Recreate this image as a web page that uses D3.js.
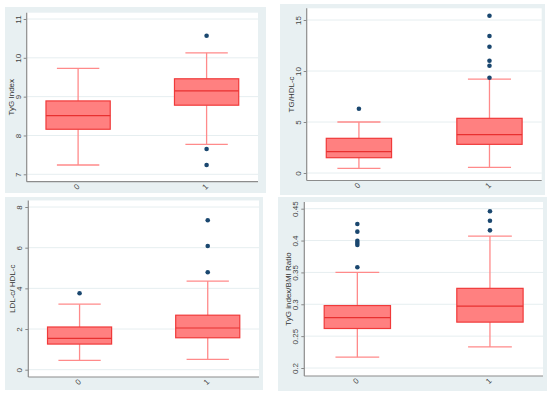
<!DOCTYPE html>
<html>
<head>
<meta charset="utf-8">
<script src="https://cdn.jsdelivr.net/npm/d3@7"></script>
<style>
body { margin: 0; background: #fff; }
svg { display: block; font-family: "Liberation Sans", Arial, sans-serif; }
</style>
</head>
<body>
<svg id="chart" width="550" height="394"></svg>
<script>
var groups = ["0", "1"];

// each box: [lower whisker, q1, median, q3, upper whisker]
var tygStats = [[7.24, 8.16, 8.51, 8.89, 9.73], [7.77, 8.78, 9.15, 9.46, 10.13]];
var tygOutliers = [[], [10.57, 7.65, 7.24]];
var tygTicks = [7, 8, 9, 10, 11];

var tghdlStats = [[0.46, 1.5, 2.09, 3.4, 5.0], [0.56, 2.81, 3.76, 5.36, 9.2]];
var tghdlOutliers = [[6.3], [15.42, 13.43, 12.38, 11.0, 10.52, 9.34]];
var tghdlTicks = [0, 5, 10, 15];

var ldlStats = [[0.46, 1.26, 1.54, 2.10, 3.22], [0.51, 1.57, 2.05, 2.68, 4.36]];
var ldlOutliers = [[3.76], [7.35, 6.08, 4.79]];
var ldlTicks = [0, 2, 4, 6, 8];

var bmiStats = [[0.217, 0.262, 0.279, 0.298, 0.350], [0.233, 0.272, 0.297, 0.325, 0.407]];
var bmiOutliers = [[0.426, 0.414, 0.3995, 0.396, 0.393, 0.358], [0.446, 0.431, 0.416]];
var bmiTicks = [0.2, 0.25, 0.3, 0.35, 0.4, 0.45];

var panels = [
    { title: "TyG Index", stats: tygStats, outliers: tygOutliers, ticks: tygTicks,
      bg: [5, 7, 261, 186], plot: [26.7, 258, 12.7, 181.7], tickPx: [174.3, 19] },
    { title: "TG/HDL-c", stats: tghdlStats, outliers: tghdlOutliers, ticks: tghdlTicks,
      bg: [280, 4, 265, 191], plot: [306.7, 541.7, 8.3, 180.5], tickPx: [173, 20] },
    { title: "LDL-c/ HDL-c", stats: ldlStats, outliers: ldlOutliers, ticks: ldlTicks,
      bg: [5, 197, 258, 193], plot: [28.3, 259, 200.5, 377], tickPx: [369.7, 207] },
    { title: "TyG index/BMI Ratio", stats: bmiStats, outliers: bmiOutliers, ticks: bmiTicks,
      bg: [278, 197, 269, 194], plot: [304.3, 543, 202, 376], tickPx: [368, 208.7] }
];

var svg = d3.select("#chart");

panels.forEach(function (p) {
    var g = svg.append("g");
    var x0 = p.plot[0], x1 = p.plot[1], top = p.plot[2], bottom = p.plot[3];

    var y = d3.scaleLinear()
        .domain([p.ticks[0], p.ticks[p.ticks.length - 1]])
        .range(p.tickPx);

    var x = d3.scalePoint()
        .domain(groups)
        .range([x0, x1])
        .padding(0.4);
    // box is half the step between groups
    var boxW = x.step() * 0.5;
    var capW = boxW * 0.66;
    function cx(d) { return x(d); }

    // graph region
    g.append("rect")
        .attr("x", p.bg[0]).attr("y", p.bg[1])
        .attr("width", p.bg[2]).attr("height", p.bg[3])
        .attr("fill", "#e8f0f2");

    // plot region
    g.append("rect")
        .attr("x", x0).attr("y", top)
        .attr("width", x1 - x0).attr("height", bottom - top)
        .attr("fill", "#ffffff");

    // grid lines
    g.selectAll(".grid")
        .data(p.ticks)
        .enter()
        .append("line")
        .attr("x1", x0).attr("x2", x1)
        .attr("y1", function (d) { return y(d); })
        .attr("y2", function (d) { return y(d); })
        .attr("stroke", "#e6eef0")
        .attr("stroke-width", 1);

    // y axis
    var yAxis = d3.axisLeft(y)
        .tickValues(p.ticks)
        .tickSize(3)
        .tickPadding(3)
        .tickFormat(function (d) { return String(d); });
    var ya = g.append("g")
        .attr("transform", "translate(" + x0 + ",0)")
        .call(yAxis);
    ya.select(".domain").remove();
    ya.selectAll(".tick line").attr("stroke", "#888");
    ya.selectAll(".tick text")
        .attr("fill", "#444")
        .attr("font-size", "8px")
        .attr("text-anchor", "middle")
        .attr("x", null)
        .attr("dy", null)
        .attr("transform", "translate(-6,0) rotate(-90)");
    g.append("line")
        .attr("x1", x0).attr("x2", x0)
        .attr("y1", top).attr("y2", bottom)
        .attr("stroke", "#8c8c8c").attr("stroke-width", 1.2);

    // x axis
    var xa = g.append("g")
        .attr("transform", "translate(0," + bottom + ")")
        .call(d3.axisBottom(x).tickSize(0).tickPadding(0));
    xa.select(".domain").remove();
    xa.selectAll(".tick text")
        .attr("fill", "#444")
        .attr("font-size", "8px")
        .attr("text-anchor", "middle")
        .attr("y", null)
        .attr("dy", null)
        .attr("transform", "translate(0,7) rotate(-45)");
    g.append("line")
        .attr("x1", x0).attr("x2", x1)
        .attr("y1", bottom).attr("y2", bottom)
        .attr("stroke", "#8c8c8c").attr("stroke-width", 1.2);

    // y title
    g.append("text")
        .attr("transform", "translate(" + (x0 - 13) + "," + ((top + bottom) / 2) + ") rotate(-90)")
        .attr("text-anchor", "middle")
        .attr("font-size", "8px")
        .attr("fill", "#333")
        .text(p.title);

    var boxes = g.selectAll(".box")
        .data(groups)
        .enter()
        .append("g");

    // whiskers
    boxes.append("line")
        .attr("x1", cx).attr("x2", cx)
        .attr("y1", function (d, i) { return y(p.stats[i][3]); })
        .attr("y2", function (d, i) { return y(p.stats[i][4]); })
        .attr("stroke", "#ff8a8a").attr("stroke-width", 1.3);
    boxes.append("line")
        .attr("x1", cx).attr("x2", cx)
        .attr("y1", function (d, i) { return y(p.stats[i][1]); })
        .attr("y2", function (d, i) { return y(p.stats[i][0]); })
        .attr("stroke", "#ff8a8a").attr("stroke-width", 1.3);
    [0, 4].forEach(function (k) {
        boxes.append("line")
            .attr("x1", function (d) { return cx(d) - capW / 2; })
            .attr("x2", function (d) { return cx(d) + capW / 2; })
            .attr("y1", function (d, i) { return y(p.stats[i][k]); })
            .attr("y2", function (d, i) { return y(p.stats[i][k]); })
            .attr("stroke", "#ff8a8a").attr("stroke-width", 1.3);
    });

    // box
    boxes.append("rect")
        .attr("x", function (d) { return cx(d) - boxW / 2; })
        .attr("width", boxW)
        .attr("y", function (d, i) { return y(p.stats[i][3]); })
        .attr("height", function (d, i) { return y(p.stats[i][1]) - y(p.stats[i][3]); })
        .attr("fill", "#ff8080")
        .attr("stroke", "#f03a3a")
        .attr("stroke-width", 1.2);

    // median
    boxes.append("line")
        .attr("x1", function (d) { return cx(d) - boxW / 2; })
        .attr("x2", function (d) { return cx(d) + boxW / 2; })
        .attr("y1", function (d, i) { return y(p.stats[i][2]); })
        .attr("y2", function (d, i) { return y(p.stats[i][2]); })
        .attr("stroke", "#e83030").attr("stroke-width", 1.2);

    // outliers
    boxes.each(function (d, i) {
        d3.select(this).selectAll("circle")
            .data(p.outliers[i])
            .enter()
            .append("circle")
            .attr("cx", cx(d))
            .attr("cy", function (v) { return y(v); })
            .attr("r", 2.3)
            .attr("fill", "#1a476f");
    });
});
</script>
</body>
</html>
